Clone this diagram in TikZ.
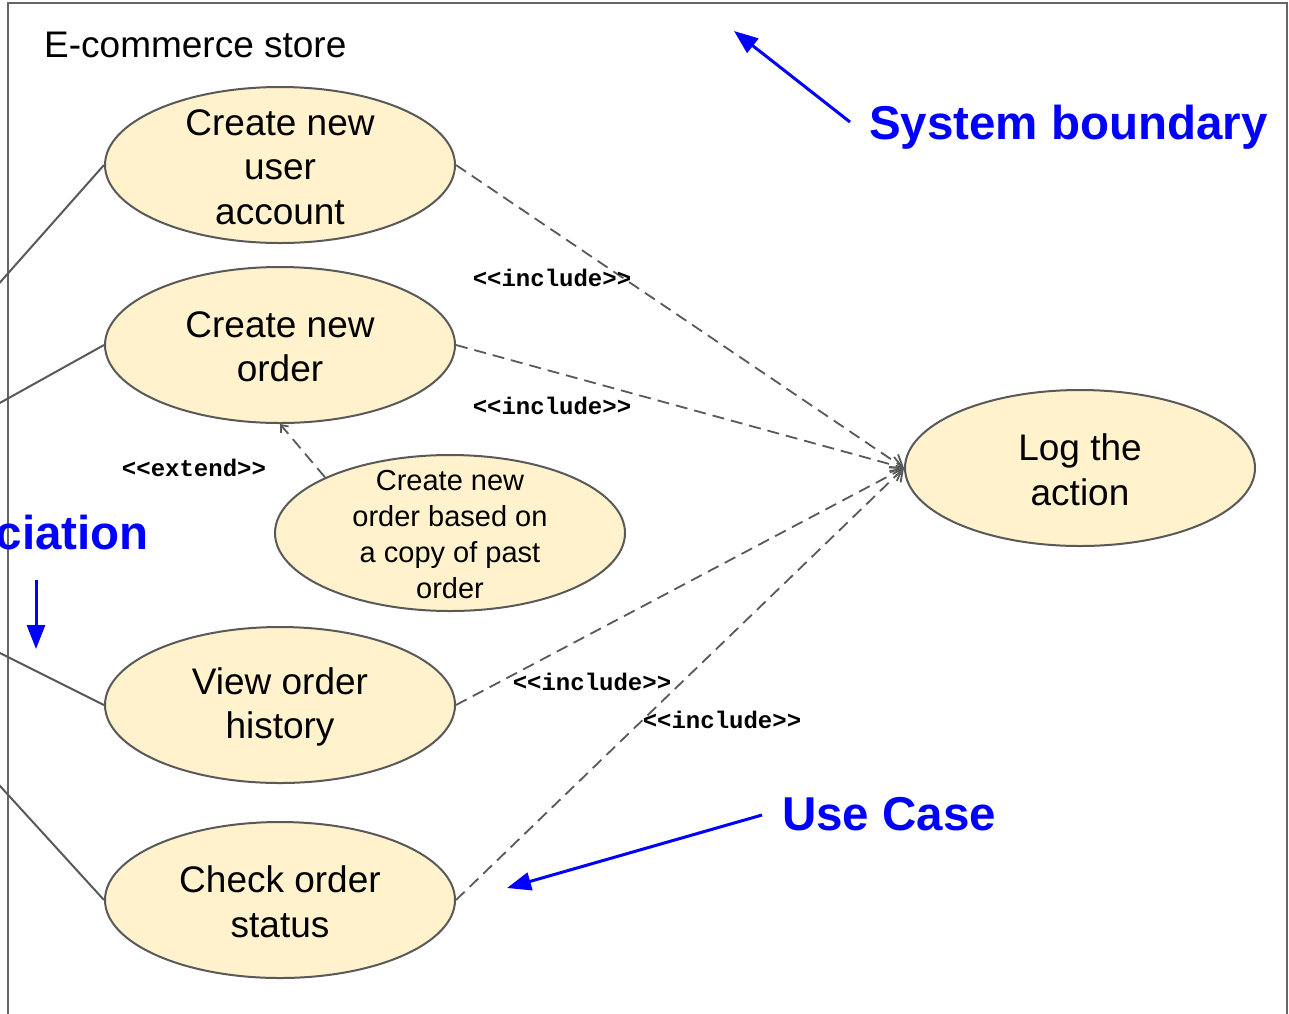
\documentclass[tikz,border=0pt]{standalone}
\usepackage{fontspec}
\setmainfont{Liberation Sans}
\setmonofont{Liberation Mono}
\usetikzlibrary{arrows.meta,shapes.geometric}

\definecolor{caseFill}{HTML}{FFF2CC}
\definecolor{lineGray}{HTML}{595959}
\definecolor{frameGray}{HTML}{666666}
\definecolor{noteBlue}{HTML}{0000FF}

\begin{document}
\begin{tikzpicture}[x=1pt,y=-1pt,
  usecase/.style={ellipse, draw=lineGray, fill=caseFill, line width=2pt,
    minimum width=350pt, minimum height=156pt, inner sep=0pt},
  casetext/.style={align=center, font=\fontsize{37}{44.5}\selectfont},
  smalltext/.style={align=center, font=\fontsize{29}{36}\selectfont},
  assoc/.style={draw=lineGray, line width=2pt},
  includeline/.style={draw=lineGray, line width=1.8pt, dash pattern=on 12pt off 7pt,
    -{Straight Barb[length=11pt,width=16pt]}},
  extendline/.style={draw=lineGray, line width=1.8pt, dash pattern=on 12pt off 7pt,
    -{Straight Barb[length=6pt,width=10pt]}},
  stereo/.style={font=\fontsize{24}{28}\selectfont\ttfamily\bfseries, inner sep=0pt},
  note/.style={text=noteBlue, font=\fontsize{47.5}{56}\selectfont\bfseries, inner sep=0pt},
  pointer/.style={draw=noteBlue, line width=3pt, -{Triangle[length=24pt,width=18pt]}}
]
\useasboundingbox (0,0) rectangle (1289,1013);
\clip (0,0) rectangle (1289,1013);

% system boundary
\draw[frameGray, line width=2pt] (8,3) rectangle (1287,1040);
\node[anchor=base west, inner sep=0pt, font=\fontsize{37}{44.5}\selectfont] (title) at (44,57) {E-commerce store};

% use cases
\node[usecase] (e1) at (280,165) {};
\node[usecase] (e2) at (280,345) {};
\node[usecase] (e3) at (450,533) {};
\node[usecase] (e4) at (280,705) {};
\node[usecase] (e5) at (280,900) {};
\node[usecase] (e6) at (1080,468) {};

\node[casetext] (t1) at (280,167) {Create new\\user\\account};
\node[casetext] (t2) at (280,347) {Create new\\order};
\node[smalltext] (t3) at (450,535) {Create new\\order based on\\a copy of past\\order};
\node[casetext] (t4) at (280,707) {View order\\history};
\node[casetext] (t5) at (280,902) {Check order\\status};
\node[casetext] (t6) at (1080,470) {Log the\\action};

% associations towards actors
\coordinate (a1) at (-20,305);
\coordinate (a2) at (-20,414);
\coordinate (a4) at (-20,643);
\coordinate (a5) at (-20,764);
\draw[assoc] (e1.west) -- (a1);
\draw[assoc] (e2.west) -- (a2);
\draw[assoc] (e4.west) -- (a4);
\draw[assoc] (e5.west) -- (a5);

% include / extend relations
\draw[includeline] (e1.east) -- (e6.west);
\draw[includeline] (e2.east) -- (e6.west);
\draw[includeline] (e4.east) -- (e6.west);
\draw[includeline] (e5.east) -- (e6.west);
\draw[extendline] (e3.156) -- (e2.south);

\node[stereo] (i1) at (552,278) {<<include>>};
\node[stereo] (i2) at (552,406) {<<include>>};
\node[stereo] (i3) at (592,682) {<<include>>};
\node[stereo] (i4) at (722,720) {<<include>>};
\node[stereo] (x1) at (194,468) {<<extend>>};

% annotations
\node[note, anchor=base west] (nb) at (869,139) {System boundary};
\node[note, anchor=base west] (nu) at (782,830) {Use Case};
\node[note, anchor=base east] (na) at (149,549) {Association};

\coordinate (pb0) at (850,122);
\coordinate (pb1) at (734,31);
\coordinate (pa0) at (36,580);
\coordinate (pa1) at (36,649);
\coordinate (pu0) at (762,815);
\coordinate (pu1) at (507,888);
\draw[pointer] (pb0) -- (pb1);
\draw[pointer] (pa0) -- (pa1);
\draw[pointer] (pu0) -- (pu1);
\end{tikzpicture}
\end{document}
